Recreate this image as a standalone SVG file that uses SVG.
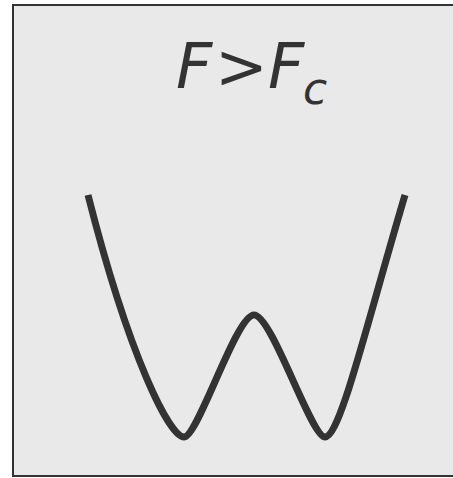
<svg xmlns="http://www.w3.org/2000/svg" width="453" height="478" viewBox="0 0 453 478">
<style>
.panel{fill:#e9e9e9;stroke:#333333;stroke-width:2}
.curve{fill:none;stroke:#333333;stroke-width:7;stroke-linejoin:round}
.lbl{font-family:'DejaVu Sans','Liberation Sans',sans-serif;fill:#333333}
</style>
<g id="panel">
<rect class="panel" x="13" y="5" width="450" height="471"/>
</g>
<g id="label">
<text class="lbl" font-size="63" y="88"><tspan x="176" font-style="italic">F</tspan><tspan x="215">&gt;</tspan><tspan x="268" font-style="italic">F</tspan><tspan x="303" y="104" font-size="44" font-style="italic">c</tspan></text>
</g>
<g id="potential">
<path class="curve" d="M88,195 C130,360 170,437 184,437 C198,437 236,315 254,315 C272,315 311,437 325,437 C340,437 365,330 405,195"/>
</g>
</svg>
